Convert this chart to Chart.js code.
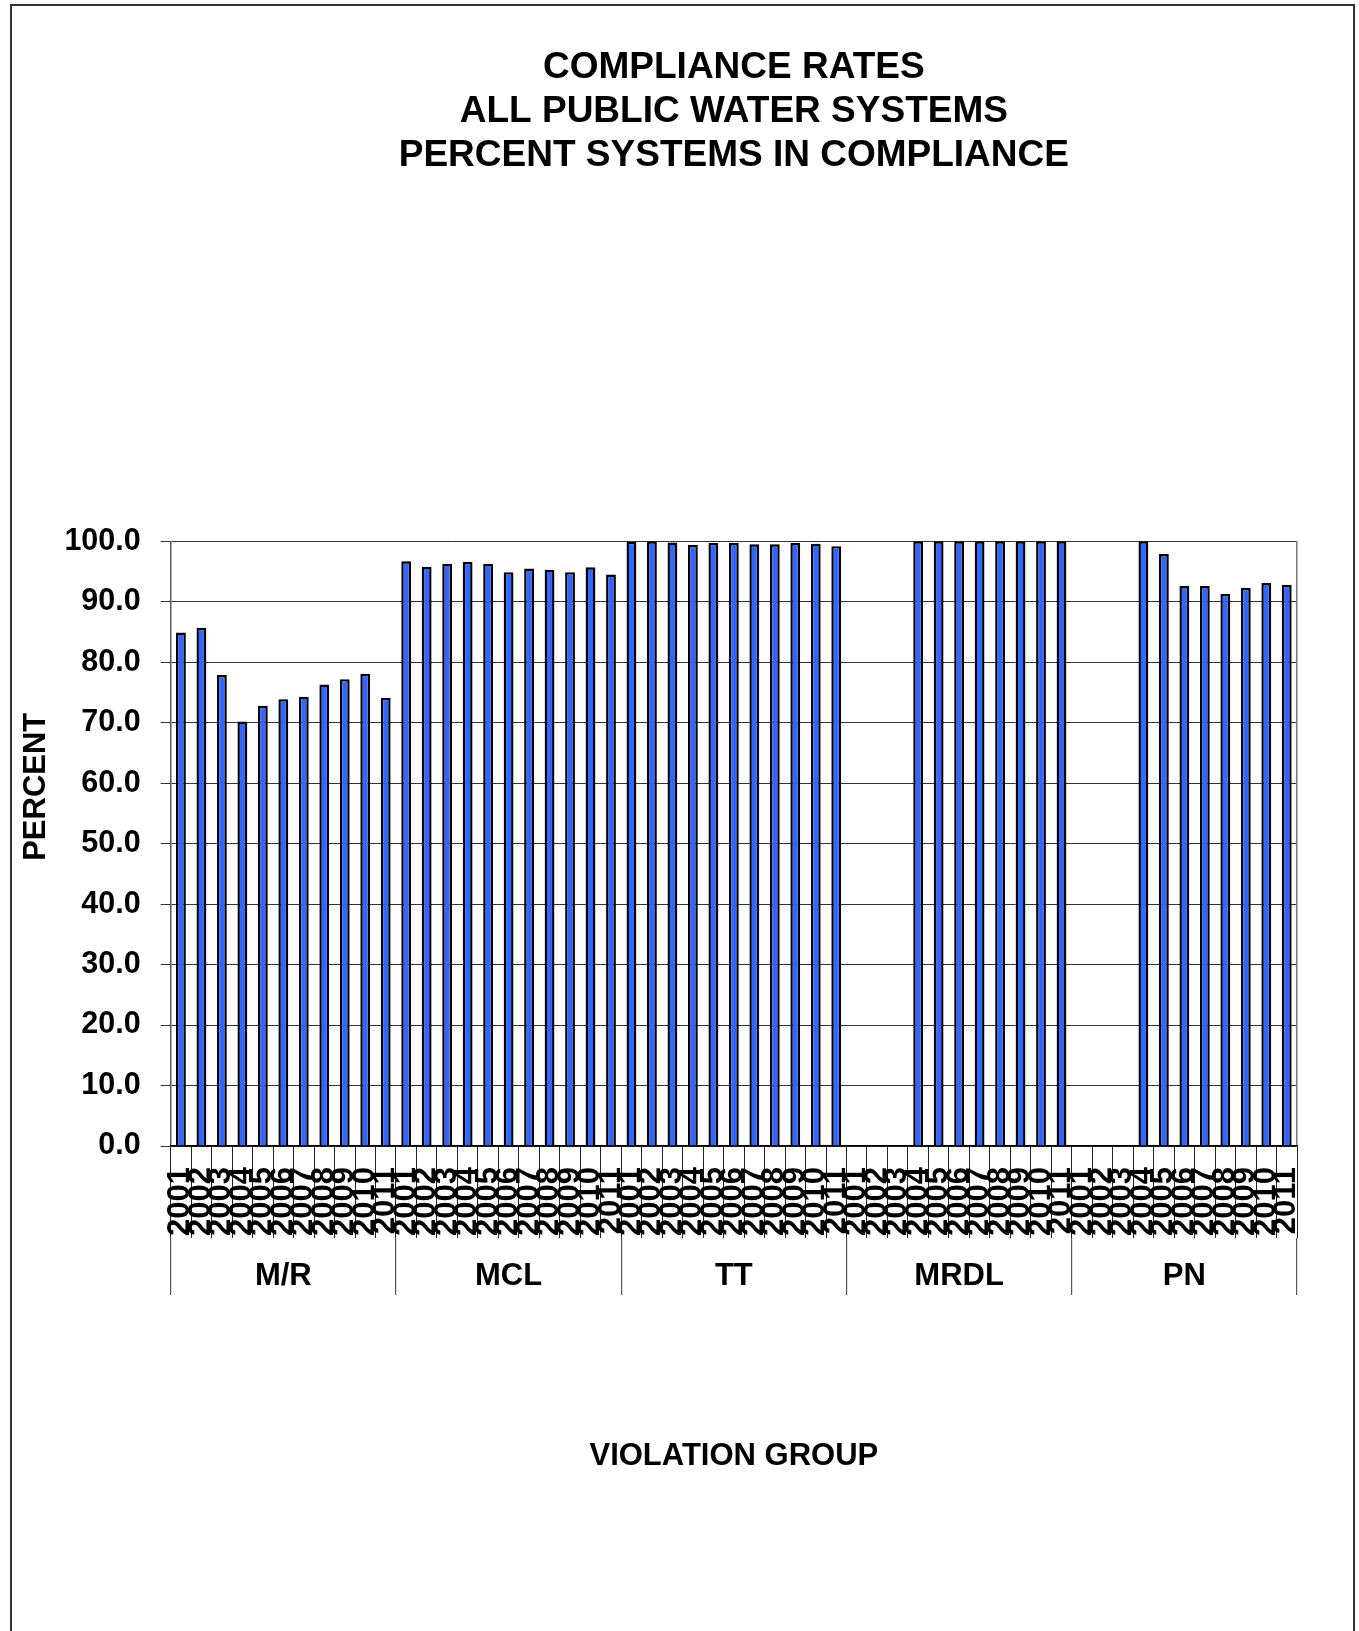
<!DOCTYPE html>
<html>
<head>
<meta charset="utf-8">
<title>Compliance Rates - All Public Water Systems</title>
<script src="https://cdn.jsdelivr.net/npm/chart.js@4.4.1/dist/chart.umd.min.js"></script>
<style>
  html, body { margin: 0; padding: 0; background: #fff; overflow: hidden; }
  #wrap { position: relative; width: 1359px; height: 1631px; }
  #wrap canvas { position: absolute; left: 0; top: 0; }
  #frame { position: absolute; left: 10px; top: 4px; width: 1341px; height: 1700px;
           border: 2px solid #333; pointer-events: none; }
</style>
</head>
<body>
<div id="wrap">
  <canvas id="chart" width="1359" height="1631"></canvas>
  <div id="frame"></div>
</div>
<script>
// Reporting years shown inside every violation group
const years = ['2001', '2002', '2003', '2004', '2005', '2006', '2007', '2008', '2009', '2010', '2011'];

// Violation groups along the outer axis
const groups = ['M/R', 'MCL', 'TT', 'MRDL', 'PN'];

// Percent of systems in compliance, one value per year (null = not reported)
const mrRates   = [84.9, 85.7, 77.9, 70.2, 72.8, 73.9, 74.3, 76.3, 77.2, 78.1, 74.1];
const mclRates  = [96.7, 95.8, 96.3, 96.6, 96.3, 94.9, 95.5, 95.3, 94.9, 95.7, 94.5];
const ttRates   = [99.9, 100.0, 99.8, 99.4, 99.7, 99.7, 99.5, 99.5, 99.7, 99.6, 99.2];
const mrdlRates = [null, null, null, 100.0, 100.0, 100.0, 100.0, 100.0, 100.0, 100.0, 100.0];
const pnRates   = [null, null, null, 100.0, 97.9, 92.6, 92.6, 91.3, 92.3, 93.1, 92.8];

const titleLines = ['COMPLIANCE RATES', 'ALL PUBLIC WATER SYSTEMS', 'PERCENT SYSTEMS IN COMPLIANCE'];

// Flatten groups x years into one category axis
const categoryLabels = groups.flatMap(() => years);
const rates = [].concat(mrRates, mclRates, ttRates, mrdlRates, pnRates);

const FONT = "'Liberation Sans', Arial, Helvetica, sans-serif";
Chart.defaults.font.family = FONT;
Chart.defaults.color = '#000';

// Vertical axis caption placed beside the value axis
const sideTitle = {
  id: 'sideTitle',
  afterDraw(chart, args, opts) {
    const { ctx, chartArea } = chart;
    ctx.save();
    ctx.translate(chartArea.left + opts.dx, chartArea.top + opts.dy);
    ctx.rotate(-Math.PI / 2);
    ctx.font = 'bold 31px ' + FONT;
    ctx.fillStyle = '#000';
    ctx.textAlign = 'center';
    ctx.textBaseline = 'middle';
    ctx.fillText(opts.text, 0, 0);
    ctx.restore();
  }
};

new Chart(document.getElementById('chart'), {
  type: 'bar',
  data: {
    labels: categoryLabels,
    datasets: [{
      data: rates,
      backgroundColor: '#3366FF',
      borderColor: '#000',
      borderWidth: 2.4,
      borderSkipped: 'start',
      barPercentage: 0.48,
      categoryPercentage: 1.0
    }]
  },
  options: {
    responsive: false,
    animation: false,
    layout: { padding: { left: 64.7, right: 62, top: 0, bottom: 156 } },
    plugins: {
      legend: { display: false },
      tooltip: { enabled: false },
      title: {
        display: true,
        fullSize: false,
        text: titleLines,
        color: '#000',
        font: { size: 37, weight: 'bold', lineHeight: '44px' },
        padding: { top: 45.6, bottom: 363.7 }
      },
      sideTitle: { text: 'PERCENT', dx: -134.7, dy: 245.5 }
    },
    scales: {
      y: {
        min: 0,
        max: 100,
        ticks: {
          stepSize: 10,
          padding: 20,
          color: '#000',
          font: { size: 30.5, weight: 'bold' },
          callback: v => Number(v).toFixed(1)
        },
        grid: { color: '#333', lineWidth: 1, tickLength: 10 },
        border: { display: true, color: '#555', width: 1.5 },
        afterFit: s => { s.width = 106; }
      },
      y2: {
        position: 'right',
        min: 0,
        max: 1,
        grid: { display: false, drawTicks: false },
        ticks: { display: false },
        border: { display: true, color: '#777', width: 1.5 }
      },
      x: {
        type: 'category',
        weight: 0,
        offset: true,
        grid: { offset: true, drawOnChartArea: false, tickLength: 92, color: '#222', lineWidth: 1 },
        border: { display: true, color: '#000', width: 1.5 },
        ticks: {
          autoSkip: false,
          minRotation: 90,
          maxRotation: 90,
          padding: -71,
          color: '#000',
          font: { size: 31, weight: 'bold' }
        },
        afterFit: s => { s.height = 92; }
      },
      xg: {
        type: 'category',
        labels: groups,
        position: 'bottom',
        weight: 1,
        offset: true,
        grid: { offset: true, drawOnChartArea: false, tickLength: 57, color: '#555', lineWidth: 1.2 },
        border: { display: false },
        ticks: {
          autoSkip: false,
          minRotation: 0,
          maxRotation: 0,
          padding: -37,
          color: '#000',
          font: { size: 31, weight: 'bold' }
        },
        title: {
          display: true,
          text: 'VIOLATION GROUP',
          color: '#000',
          font: { size: 31, weight: 'bold' },
          padding: { top: 0, bottom: 0 }
        },
        afterFit: s => { s.height = 237; }
      }
    }
  },
  plugins: [sideTitle]
});
</script>
</body>
</html>
